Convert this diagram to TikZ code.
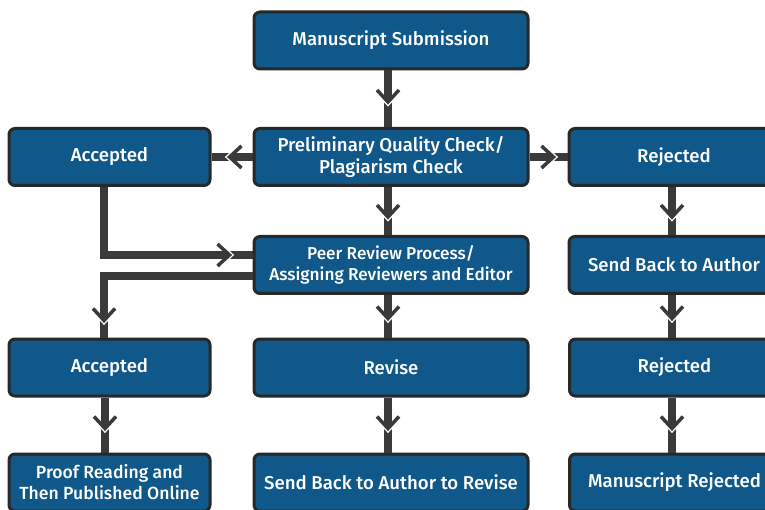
\documentclass[tikz,border=0pt]{standalone}
\usepackage{fontspec}
\setmainfont{Fira Sans}[UprightFont=* Medium, BoldFont=* SemiBold]
\usetikzlibrary{decorations.markings,calc}
\definecolor{boxblue}{RGB}{16,88,137}
\definecolor{edgegray}{RGB}{40,40,40}
\definecolor{linegray}{RGB}{58,58,58}
\tikzset{
  box/.style={draw=edgegray, line width=3pt, fill=boxblue, rounded corners=6pt,
    text=white, align=center, font=\fontsize{18.6}{21.5}\selectfont, inner sep=0pt},
  wide/.style={box, minimum width=274pt, minimum height=57pt},
  side/.style={box, minimum width=201pt, minimum height=57pt},
  right/.style={box, minimum width=210pt, minimum height=57pt},
  conn/.style={draw=linegray, line width=8pt, line join=miter,
    postaction={decorate, decoration={markings,
      mark=at position -#1 with {
        \draw[white, line width=3.5pt, line join=miter] (-10pt,11pt) -- (2pt,0pt) -- (-10pt,-11pt);
        \draw[linegray, line width=3.5pt, line join=miter] (-12pt,11pt) -- (0pt,0pt) -- (-12pt,-11pt);
      }}}},
  conn/.default=20pt
}
\begin{document}
\begin{tikzpicture}[x=1pt, y=-1pt]
\useasboundingbox (0,0) rectangle (765,510);

% centre column
\node[wide] (sub) at (391,40.5) {Manuscript Submission};
\node[wide] (pre) at (391,157) {Preliminary Quality Check/\\Plagiarism Check};
\node[wide, font=\fontsize{17.2}{21}\selectfont] (peer) at (391,265) {Peer Review Process/\\Assigning Reviewers and Editor};
\node[wide] (rev) at (391,367.5) {Revise};
\node[wide] (sbr) at (391,482.5) {Send Back to Author to Revise};

% left column
\node[side] (acc1) at (109.5,157) {Accepted};
\node[side] (acc2) at (109.5,367.5) {Accepted};
\node[side, font=\fontsize{17.6}{21}\selectfont] (proof) at (109.5,482.5) {Proof Reading and\\Then Published Online};

% right column
\node[right] (rej1) at (674,157) {Rejected};
\node[right] (send) at (674,265) {Send Back to Author};
\node[right] (rej2) at (674.5,367.5) {Rejected};
\node[right] (mrej) at (674.5,482.5) {Manuscript Rejected};

% connectors
\draw[conn=25pt] ([xshift=-3pt]sub.south) -- ([xshift=-3pt]pre.north);
\draw[conn=18pt] (pre.west) -- (acc1.east);
\draw[conn=14pt] (pre.east) -- (rej1.east -| rej1.west);
\draw[conn=18pt] ([xshift=-3pt]pre.south) -- ([xshift=-3pt]peer.north);
\draw[conn=23pt] ([xshift=-5.5pt]acc1.south) |- ([yshift=10pt]peer.west);
\draw[conn=17pt] ([yshift=-11pt]peer.west) -| ([xshift=-5.5pt]acc2.north);
\draw[conn=19pt] ([xshift=-3pt]peer.south) -- ([xshift=-3pt]rev.north);
\draw[conn=18pt] ([xshift=-2pt]rej1.south) -- ([xshift=-2pt]send.north);
\draw[conn=19pt] ([xshift=-2pt]send.south) -- ([xshift=-2.5pt]rej2.north);
\draw[conn=24pt] ([xshift=-4.5pt]acc2.south) -- ([xshift=-4.5pt]proof.north);
\draw[conn=24pt] ([xshift=-3pt]rev.south) -- ([xshift=-3pt]sbr.north);
\draw[conn=24pt] ([xshift=-2.5pt]rej2.south) -- ([xshift=-2.5pt]mrej.north);
\end{tikzpicture}
\end{document}
